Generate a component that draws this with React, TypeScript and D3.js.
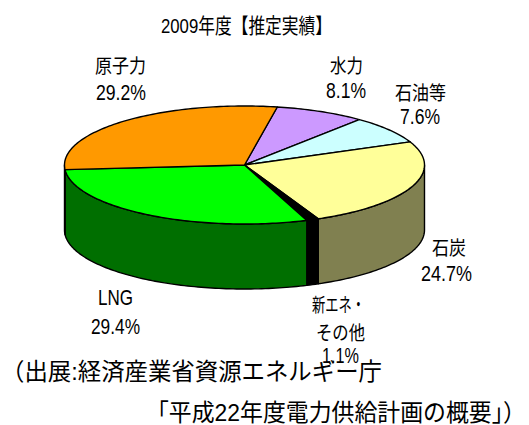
import React from "react";
import * as d3 from "d3";

const categories = ["水力", "石油等", "石炭", "新エネ・その他", "LNG", "原子力"];
const nameLines = [["水力"], ["石油等"], ["石炭"], ["新エネ・", "その他"], ["LNG"], ["原子力"]];
const shares = [8.1, 7.6, 24.7, 1.1, 29.4, 29.2];
const topColors = ["#CC99FF", "#CCFFFF", "#FFFF99", "#000000", "#00FF00", "#FF9900"];
const sideColors = ["#664D80", "#668080", "#808050", "#000000", "#006F00", "#804D00"];

const titleText = "2009年度【推定実績】";
const sourceLines = ["（出展:経済産業省資源エネルギー庁", "「平成22年度電力供給計画の概要」）"];

// layout only: x, width, baseline for each text line, per category
const nameBoxes: [number, number, number][][] = [
  [[330, 33, 73]],
  [[395, 51, 100]],
  [[432, 34, 255]],
  [[312, 53, 312], [316, 49, 340]],
  [[98, 35, 305]],
  [[95, 51, 73]],
];
const valueBoxes: [number, number, number][] = [
  [326, 40, 98],
  [400, 40, 124],
  [421, 51, 281],
  [322, 37, 363],
  [91, 49, 334],
  [96, 50, 100],
];
const sourceBoxes: [number, number, number][] = [
  [1, 381, 380],
  [146, 380, 421],
];

const cx = 244.5;
const cy = 165;
const rx = 180;
const ry = 59;
const depth = 65;
const START = (10.5 * Math.PI) / 180;

const pie = d3.pie<number>().sort(null).startAngle(START).endAngle(START + 2 * Math.PI);
const arcs = pie(shares);

const px = (a: number) => rx * Math.sin(a);
const py = (a: number) => -ry * Math.cos(a);
const line = d3.line<[number, number]>();

function sweep(a0: number, a1: number, dy = 0): [number, number][] {
  const n = Math.max(2, Math.ceil((a1 - a0) / 0.02));
  return d3.range(n + 1).map((i) => {
    const a = a0 + ((a1 - a0) * i) / n;
    return [px(a), py(a) + dy] as [number, number];
  });
}

const FONT = "'Liberation Sans','Noto Sans CJK JP',sans-serif";
const T = ({ s, b, size }: { s: string; b: [number, number, number]; size: number }) => (
  <text
    x={b[0]}
    y={b[2]}
    textLength={b[1]}
    lengthAdjust="spacingAndGlyphs"
    fontSize={size}
    fontFamily={FONT}
    fill="#000"
  >
    {s}
  </text>
);

export default function App() {
  const HALF = Math.PI / 2;
  return (
    <svg
      width={529}
      height={425}
      style={{ position: "fixed", left: 0, top: 0, display: "block", background: "#fff" }}
    >
      <g transform={`translate(${cx},${cy})`} stroke="#000" strokeWidth={1.4} strokeLinejoin="round">
        {arcs.map((d, i) => {
          const a0 = Math.max(d.startAngle, HALF);
          const a1 = Math.min(d.endAngle, 3 * HALF);
          if (a1 <= a0) return null;
          const top = sweep(a0, a1);
          const bottom = sweep(a0, a1, depth).reverse();
          return (
            <path
              key={categories[i] + "side"}
              d={line([...top, ...bottom])! + "Z"}
              fill={sideColors[i]}
            />
          );
        })}
        {arcs.map((d, i) => (
          <path
            key={categories[i]}
            d={line([[0, 0], ...sweep(d.startAngle, d.endAngle)])! + "Z"}
            fill={topColors[i]}
          />
        ))}
      </g>
      <T s={titleText} b={[161, 171, 33]} size={21} />
      {nameLines.map((lines, i) =>
        lines.map((s, j) => <T key={s} s={s} b={nameBoxes[i][j]} size={s === "LNG" ? 22 : 19.5} />)
      )}
      {shares.map((v, i) => (
        <T key={categories[i] + "v"} s={`${v}%`} b={valueBoxes[i]} size={22.5} />
      ))}
      {sourceLines.map((s, i) => (
        <T key={s} s={s} b={sourceBoxes[i]} size={24} />
      ))}
    </svg>
  );
}
